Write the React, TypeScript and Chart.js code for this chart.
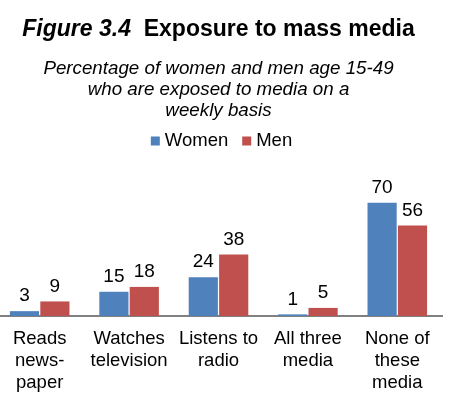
import React, { useEffect, useRef } from "react";
import { Chart, registerables } from "chart.js";

Chart.register(...registerables);

const categories: string[][] = [
  ["Reads", "news-", "paper"],
  ["Watches", "television"],
  ["Listens to", "radio"],
  ["All three", "media"],
  ["None of", "these", "media"],
];
const womenValues = [3, 15, 24, 1, 70];
const menValues = [9, 18, 38, 5, 56];
const seriesNames = ["Women", "Men"];
const seriesColors = ["#4F81BD", "#C0504D"];
const titleItalic = "Figure 3.4";
const titleMain = "Exposure to mass media";
const subtitleLines = [
  "Percentage of women and men age 15-49",
  "who are exposed to media on a",
  "weekly basis",
];

const FONT = "'Liberation Sans', Arial, sans-serif";

const mainTitlePlugin = {
  id: "mainTitle",
  afterDraw(chart: any) {
    const ctx = chart.ctx;
    ctx.save();
    const f1 = `italic bold 23px ${FONT}`;
    const f2 = `bold 23px ${FONT}`;
    ctx.font = f1;
    const w1 = ctx.measureText(titleItalic + "  ").width;
    ctx.font = f2;
    const w2 = ctx.measureText(titleMain).width;
    const cx = (chart.chartArea.left + chart.chartArea.right) / 2;
    const x0 = cx - (w1 + w2) / 2;
    const y = 30;
    ctx.fillStyle = "#000";
    ctx.textBaseline = "middle";
    ctx.textAlign = "left";
    ctx.font = f1;
    ctx.fillText(titleItalic, x0, y);
    ctx.font = f2;
    ctx.fillText(titleMain, x0 + w1, y);
    ctx.restore();
  },
};

const customLegendPlugin = {
  id: "customLegend",
  afterDraw(chart: any) {
    const ctx = chart.ctx;
    ctx.save();
    ctx.font = `18.5px ${FONT}`;
    ctx.textBaseline = "middle";
    ctx.textAlign = "left";
    const box = 9;
    const gapBoxText = 5;
    const gapItems = 14;
    const items = chart.data.datasets.map((ds: any) => ({
      label: ds.label,
      color: ds.backgroundColor,
      w: ctx.measureText(ds.label).width,
    }));
    const total =
      items.reduce((s: number, it: any) => s + box + gapBoxText + it.w, 0) +
      gapItems * (items.length - 1);
    const cx = (chart.chartArea.left + chart.chartArea.right) / 2 + 3;
    let x = cx - total / 2;
    const y = 141;
    items.forEach((it: any) => {
      ctx.fillStyle = it.color;
      ctx.fillRect(x, y - box / 2, box, box);
      x += box + gapBoxText;
      ctx.fillStyle = "#000";
      ctx.fillText(it.label, x, y);
      x += it.w + gapItems;
    });
    ctx.restore();
  },
};

const valueLabelPlugin = {
  id: "valueLabels",
  afterDatasetsDraw(chart: any) {
    const ctx = chart.ctx;
    ctx.save();
    ctx.font = `19px ${FONT}`;
    ctx.fillStyle = "#000";
    ctx.textAlign = "center";
    ctx.textBaseline = "middle";
    chart.data.datasets.forEach((ds: any, i: number) => {
      const meta = chart.getDatasetMeta(i);
      meta.data.forEach((el: any, j: number) => {
        ctx.fillText(String(ds.data[j]), el.x, el.y - 15);
      });
    });
    ctx.restore();
  },
};

export default function App() {
  const ref = useRef<HTMLCanvasElement | null>(null);
  useEffect(() => {
    if (!ref.current) return;
    const chart = new Chart(ref.current, {
      type: "bar",
      data: {
        labels: categories,
        datasets: [
          {
            label: seriesNames[0],
            data: womenValues,
            backgroundColor: seriesColors[0],
            borderWidth: 0,
          },
          {
            label: seriesNames[1],
            data: menValues,
            backgroundColor: seriesColors[1],
            borderWidth: 0,
          },
        ],
      },
      options: {
        animation: false,
        responsive: false,
        maintainAspectRatio: false,
        layout: { padding: { top: 48, right: 19, left: 0, bottom: 0 } },
        datasets: {
          bar: { categoryPercentage: 0.68, barPercentage: 0.96 },
        },
        plugins: {
          title: {
            display: true,
            text: subtitleLines,
            font: { family: FONT, size: 18.75, style: "italic", weight: "normal", lineHeight: 21 / 18.75 },
            color: "#000",
            padding: { top: 10, bottom: 39 },
          },
          legend: { display: false },
          tooltip: { enabled: false },
        },
        scales: {
          x: {
            grid: { display: false },
            border: { display: true, color: "#808080", width: 2 },
            ticks: {
              color: "#000",
              font: { family: FONT, size: 18.5, lineHeight: 22 / 18.5 },
              padding: 4,
              maxRotation: 0,
              autoSkip: false,
            },
          },
          y: {
            display: false,
            min: 0,
            max: 96.5,
          },
        },
      },
      plugins: [mainTitlePlugin, customLegendPlugin, valueLabelPlugin],
    });
    return () => chart.destroy();
  }, []);
  return (
    <div style={{ position: "absolute", left: -5, top: 0, width: 466, height: 398 }}>
      <canvas ref={ref} width={466} height={398} style={{ width: 466, height: 398 }} />
    </div>
  );
}
